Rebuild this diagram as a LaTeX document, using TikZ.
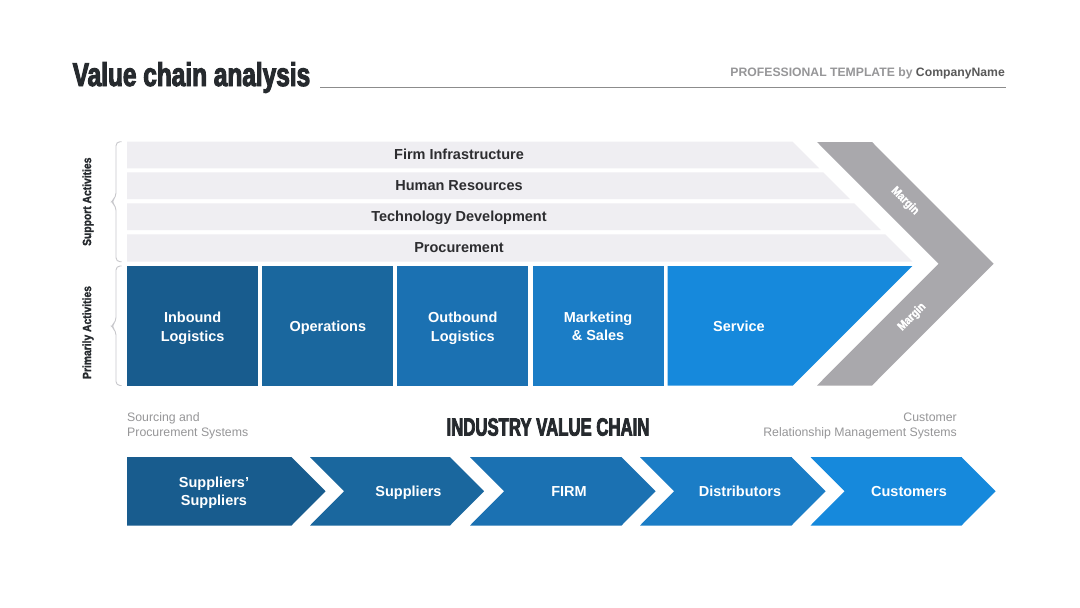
\documentclass[tikz,border=0pt]{standalone}
\usepackage{fontspec}
\setmainfont{Liberation Sans}
\newfontfamily\titlefont[UprightFont=* Bold,FakeStretch=0.74,FakeBold=3]{Liberation Sans}
\newfontfamily\ivcfont[UprightFont=* Bold,FakeStretch=0.67,FakeBold=3]{Liberation Sans}
\newfontfamily\sidefont[UprightFont=* Bold,FakeStretch=0.86,FakeBold=1.5]{Liberation Sans}
\definecolor{bA}{RGB}{24,92,142}
\definecolor{bB}{RGB}{26,103,158}
\definecolor{bC}{RGB}{27,113,178}
\definecolor{bD}{RGB}{27,125,198}
\definecolor{bE}{RGB}{22,137,220}
\definecolor{supp}{RGB}{239,238,242}
\definecolor{margray}{RGB}{169,168,172}
\definecolor{darktxt}{RGB}{38,42,46}
\definecolor{rowtxt}{RGB}{45,45,48}
\definecolor{lighttxt}{RGB}{150,150,152}
\definecolor{bracecol}{RGB}{200,200,204}
\begin{document}
\begin{tikzpicture}[x=1pt,y=-1pt,
  rowtext/.style={text=rowtxt,font=\bfseries\fontsize{14.5}{17}\selectfont,inner sep=0,anchor=base},
  boxtext/.style={text=white,font=\bfseries\fontsize{14.5}{18.3}\selectfont,align=center,inner sep=0},
  boxline/.style={text=white,font=\bfseries\fontsize{14.5}{18.3}\selectfont,inner sep=0,anchor=base},
  sidelabel/.style={text=darktxt,font=\sidefont\fontsize{12}{12}\selectfont,rotate=90,inner sep=0},
  marglabel/.style={text=white,font=\sidefont\fontsize{12}{12}\selectfont,inner sep=0},
  graytext/.style={text=lighttxt,font=\fontsize{12.3}{15}\selectfont,inner sep=0},
  bracepath/.style={draw=bracecol,line width=0.9pt,rounded corners=4pt}
]
\useasboundingbox (0,0) rectangle (1080,608);
\fill[white] (0,0) rectangle (1080,608);

% header
\node[anchor=base west,text=darktxt,font=\titlefont\fontsize{33}{33}\selectfont,inner sep=0] (title) at (72.5,86) {Value chain analysis};
\node[anchor=base east,text=lighttxt,font=\bfseries\fontsize{12.2}{12.2}\selectfont,inner sep=0] (brand) at (1005,76.5) {PROFESSIONAL TEMPLATE by \textcolor{black!65}{CompanyName}};
\coordinate (ruleA) at (320,87);
\coordinate (ruleB) at (1006,87);
\draw[black!45,line width=0.7pt] (ruleA) -- (ruleB);

% support rows
\fill[supp] (127,141.7) -- (792.45,141.7) -- (819.05,168.3) -- (127,168.3) -- cycle;
\fill[supp] (127,172.3) -- (823.05,172.3) -- (849.75,199) -- (127,199) -- cycle;
\fill[supp] (127,203.3) -- (854.05,203.3) -- (880.75,230) -- (127,230) -- cycle;
\fill[supp] (127,234.3) -- (885.05,234.3) -- (912.45,261.7) -- (127,261.7) -- cycle;
\node[rowtext] (fi) at (459,159.4) {Firm Infrastructure};
\node[rowtext] (hr) at (459,190.4) {Human Resources};
\node[rowtext] (td) at (459,221.4) {Technology Development};
\node[rowtext] (pr) at (459,252.4) {Procurement};

% primary activities
\fill[bA] (127,266) rectangle (258.3,385.5);
\fill[bB] (262.3,266) rectangle (393.3,385.5);
\fill[bC] (397.3,266) rectangle (528.3,385.5);
\fill[bD] (532.5,266) rectangle (663.5,385.5);
\fill[bE] (667.5,266) -- (912.25,266) -- (792.75,385.5) -- (667.5,385.5) -- cycle;
\node[boxtext] (inb) at (192.6,328.3) {Inbound\\Logistics};
\node[boxline] (ops) at (327.8,331.2) {Operations};
\node[boxtext] (outb) at (462.8,328.3) {Outbound\\Logistics};
\node[boxtext] (mkt) at (598,326) {Marketing\\\& Sales};
\node[boxline] (svc) at (739,331.2) {Service};

% margin chevron
\fill[margray] (817,142) -- (872,142) -- (993.5,263.75) -- (872,385.5) -- (817,385.5) -- (938.5,263.75) -- cycle;
\node[marglabel,rotate=-45] (mtop) at (905,201) {Margin};
\node[marglabel,rotate=45] (mbot) at (912,317) {Margin};

% braces and side labels
\draw[bracepath] (121.5,141.7) -- (116,141.7) -- (116,197) -- (111,201.7) -- (116,206.4) -- (116,261.7) -- (121.5,261.7);
\draw[bracepath] (121.5,266) -- (116,266) -- (116,321.5) -- (111,326.2) -- (116,331) -- (116,385.5) -- (121.5,385.5);
\node[sidelabel] (supl) at (88,201.7) {Support Activities};
\node[sidelabel] (priml) at (88,332.5) {Primarily Activities};

% industry value chain captions
\node[graytext,anchor=west,align=left] (src) at (127,426) {Sourcing and\\Procurement Systems};
\node[graytext,anchor=east,align=right] (crm) at (957,426) {Customer\\Relationship Management Systems};
\node[text=darktxt,font=\ivcfont\fontsize{25}{25}\selectfont,inner sep=0] (ivc) at (548,427) {INDUSTRY VALUE CHAIN};

% bottom chevrons
\fill[bA] (127,457) -- (291.5,457) -- (325.5,491.25) -- (291.5,525.5) -- (127,525.5) -- cycle;
\fill[bB] (310,457) -- (450,457) -- (484,491.25) -- (450,525.5) -- (310,525.5) -- (344,491.25) -- cycle;
\fill[bC] (470,457) -- (621.5,457) -- (655.5,491.25) -- (621.5,525.5) -- (470,525.5) -- (504,491.25) -- cycle;
\fill[bD] (640,457) -- (791.5,457) -- (825.5,491.25) -- (791.5,525.5) -- (640,525.5) -- (674,491.25) -- cycle;
\fill[bE] (810.5,457) -- (961.5,457) -- (995.5,491.25) -- (961.5,525.5) -- (810.5,525.5) -- (844.5,491.25) -- cycle;
\node[boxtext] (ss) at (214,493) {Suppliers'\\Suppliers};
\node[boxline] (sup) at (408.5,496.5) {Suppliers};
\node[boxline] (firm) at (569,496.5) {FIRM};
\node[boxline] (dist) at (740,496.5) {Distributors};
\node[boxline] (cust) at (909,496.5) {Customers};
\end{tikzpicture}
\end{document}
